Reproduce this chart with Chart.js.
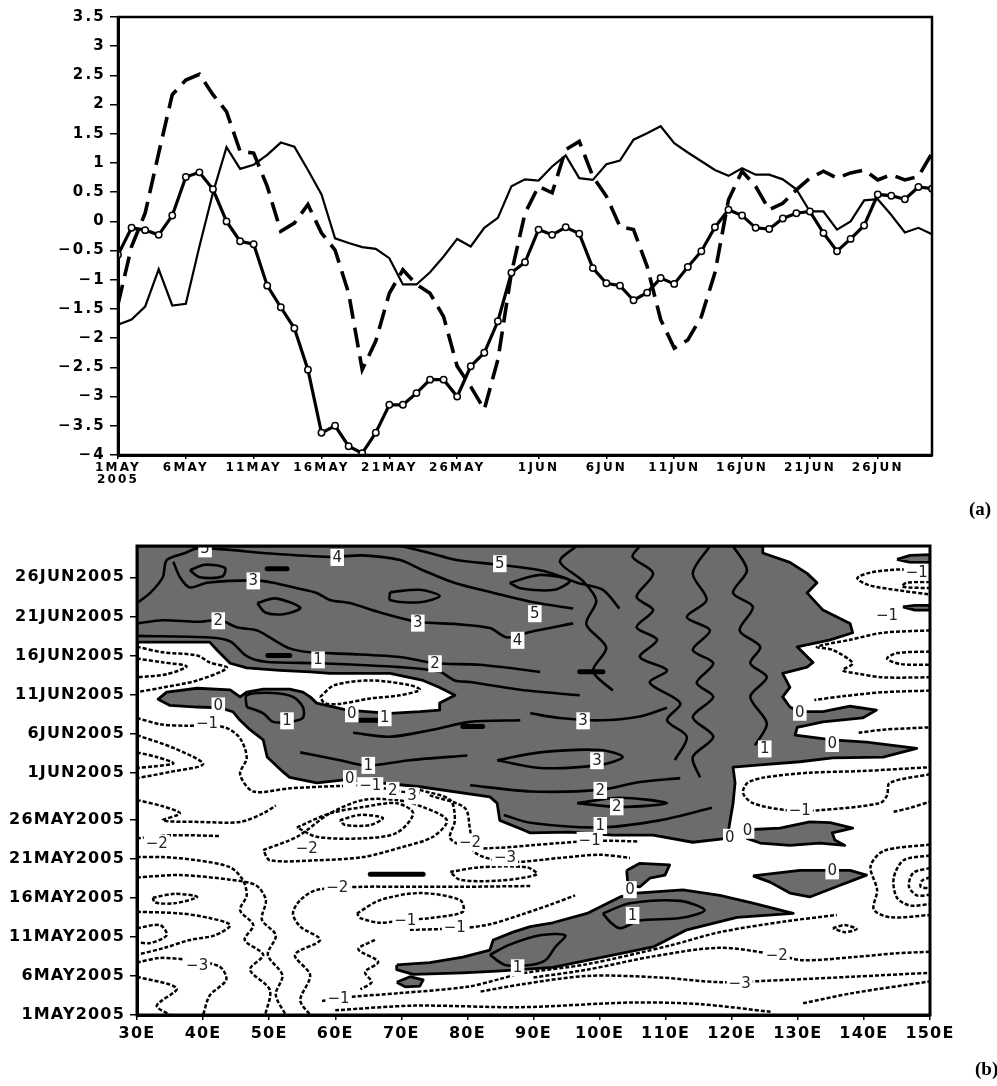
<!DOCTYPE html>
<html>
<head>
<meta charset="utf-8">
<script src="https://cdn.jsdelivr.net/npm/chart.js@4.4.1/dist/chart.umd.min.js"></script>
<style>
  body { margin: 0; background: #fff; }
  #wrap { position: relative; width: 997px; height: 1086px; overflow: hidden; }
  #chartA { position: absolute; left: 0; top: 0; }
  #chartB { position: absolute; left: 0; top: 490px; }
  .panel { position: absolute; font: bold 19px "Liberation Serif", serif; color: #000; }
</style>
</head>
<body>
<div id="wrap">
  <canvas id="chartA" width="997" height="490"></canvas>
  <canvas id="chartB" width="997" height="596"></canvas>
  <div class="panel" style="left:969px; top:498px;">(a)</div>
  <div class="panel" style="left:975px; top:1058px;">(b)</div>
</div>
<script>
// ---------- panel (a): daily index, 1 May .. 30 Jun 2005 ----------
var dayIdx = [];
for (var i = 0; i <= 60; i++) dayIdx.push(i);

var tickDays = [0, 5, 10, 15, 20, 25, 31, 36, 41, 46, 51, 56];
var tickLabelsA = [['1MAY', '2005'], '6MAY', '11MAY', '16MAY', '21MAY', '26MAY', '1JUN', '6JUN', '11JUN', '16JUN', '21JUN', '26JUN'];

var circleSeries = [-0.57, -0.11, -0.15, -0.23, 0.10, 0.76, 0.84, 0.55, 0.0, -0.34,
  -0.39, -1.10, -1.47, -1.83, -2.54, -3.62, -3.50, -3.85, -3.97, -3.62,
  -3.14, -3.14, -2.94, -2.71, -2.71, -3.0, -2.48, -2.25, -1.71, -0.88,
  -0.70, -0.14, -0.23, -0.10, -0.21, -0.80, -1.06, -1.10, -1.35, -1.22,
  -0.97, -1.07, -0.78, -0.51, -0.10, 0.20, 0.10, -0.11, -0.13, 0.05,
  0.14, 0.17, -0.20, -0.51, -0.30, -0.07, 0.46, 0.44, 0.38, 0.59, 0.56];

var thinSeries = [-1.77, -1.68, -1.46, -0.82, -1.44, -1.41, -0.43, 0.49, 1.27, 0.90,
  0.97, 1.14, 1.35, 1.28, 0.88, 0.46, -0.29, -0.37, -0.44, -0.47,
  -0.63, -1.08, -1.08, -0.87, -0.60, -0.30, -0.43, -0.11, 0.06, 0.60,
  0.72, 0.70, 0.94, 1.13, 0.74, 0.71, 0.98, 1.04, 1.40, 1.51,
  1.63, 1.34, 1.18, 1.03, 0.88, 0.78, 0.91, 0.80, 0.80, 0.72,
  0.55, 0.17, 0.17, -0.14, 0.0, 0.36, 0.38, 0.11, -0.19, -0.11, -0.22];

var dashSeries = [-1.42, -0.43, 0.14, 1.17, 2.17, 2.42, 2.52, 2.17, 1.88, 1.20,
  1.17, 0.60, -0.17, -0.03, 0.29, -0.20, -0.49, -1.23, -2.54, -2.05,
  -1.23, -0.83, -1.08, -1.23, -1.63, -2.48, -2.83, -3.22, -2.37, -0.88,
  0.14, 0.60, 0.49, 1.23, 1.37, 0.77, 0.43, -0.09, -0.14, -0.77,
  -1.68, -2.17, -2.03, -1.63, -0.88, 0.37, 0.86, 0.60, 0.20, 0.31,
  0.54, 0.74, 0.86, 0.74, 0.83, 0.88, 0.71, 0.80, 0.71, 0.77, 1.17];

// ---------- panel (b): longitude-time section ----------
var lonTicks = [30, 40, 50, 60, 70, 80, 90, 100, 110, 120, 130, 140, 150];
var lonLabels = ['30E', '40E', '50E', '60E', '70E', '80E', '90E', '100E', '110E', '120E', '130E', '140E', '150E'];
var tickLabelsB = ['1MAY2005', '6MAY2005', '11MAY2005', '16MAY2005', '21MAY2005', '26MAY2005',
  '1JUN2005', '6JUN2005', '11JUN2005', '16JUN2005', '21JUN2005', '26JUN2005'];

// shaded (positive) areas, [lon, day]
var shadeMain = [[30,60],[124.7,60],[124.7,59.1],[128.8,57.9],[131.4,56.5],[132.9,55.3],[131.4,54.0],[133.8,51.8],[137.9,50.1],[138.3,48.9],[134.9,48.0],[129.9,47.1],[132.3,45.1],[131.4,44.5],[127.7,43.7],[128.8,41.9],[127.7,40.7],[128.8,39.4],[130.3,38.8],[133.8,38.8],[137.9,39.5],[141.9,39.0],[139.8,38.0],[133.8,37.5],[129.9,36.8],[129.6,35.8],[131.4,35.6],[135.2,35.2],[140.4,34.9],[148.0,34.1],[142.9,33.0],[135.3,32.9],[130.3,32.4],[124.3,32.0],[120.2,31.7],[120.5,29.7],[120.2,27.1],[119.7,24.6],[119.3,22.6],[114.1,22.1],[108.1,23.0],[102.0,23.0],[95.5,23.4],[89.5,23.3],[88.4,23.7],[84.9,24.9],[84.5,27.1],[83.4,27.9],[72.8,29.2],[61.8,30.1],[57.2,29.7],[53.1,30.4],[52.1,31.1],[49.7,33.0],[49.1,35.2],[47.1,36.5],[45.6,37.7],[44.5,38.8],[42.6,39.3],[39.1,39.4],[35.0,39.6],[33.2,40.4],[34.5,41.3],[39.1,41.8],[44.1,41.6],[45.6,40.7],[46.6,41.3],[49.1,41.7],[53.1,41.7],[55.1,41.3],[56.2,40.7],[57.2,39.9],[61.8,39.0],[68.3,38.6],[72.8,38.8],[75.8,39.0],[75.8,39.9],[78.1,40.9],[75.8,41.9],[73.3,42.8],[68.3,43.7],[64.2,43.7],[59.2,43.7],[56.2,43.9],[51.6,44.1],[46.6,44.4],[44.1,45.0],[42.1,46.7],[41.0,47.7],[30,47.7],[30,60]];
var shadeLow = [[69.3,6.4],[74.3,6.7],[79.3,7.4],[83.4,8.3],[83.9,9.6],[86.9,10.6],[89.5,11.3],[92.9,11.8],[98.1,13.0],[103.1,15.1],[105.6,15.6],[112.6,16.0],[118.2,15.3],[123.2,14.3],[129.3,13.0],[120.8,12.5],[113.2,10.9],[108.1,8.7],[100.5,7.4],[92.9,6.1],[88.0,5.8],[84.5,5.6],[79.3,5.4],[71.8,5.2],[69.3,5.8],[69.3,6.4]];
var shadeLowDot = [[69.3,4.2],[71.3,4.9],[73.3,4.5],[72.8,3.7],[70.6,3.6],[69.3,4.2]];
var shadeMid = [[104.1,18.5],[106.1,19.4],[110.6,19.2],[109.9,17.9],[107.6,17.5],[106.1,16.4],[104.3,16.6],[104.1,18.5]];
var shadeRight = [[123.2,17.8],[130.3,18.5],[137.9,18.5],[140.4,17.9],[136.4,16.6],[131.8,15.1],[128.8,15.6],[125.8,17.0],[123.2,17.8]];
var shadeTongue = [[122.3,23.7],[127.3,23.9],[131.8,24.7],[134.9,24.6],[138.3,23.9],[135.2,23.3],[135.6,22.4],[137.1,21.7],[133.3,22.0],[128.8,21.7],[124.3,22.0],[122.3,22.6],[122.3,23.7]];
var shadeTopRight = [[145.0,58.3],[147.0,58.8],[150,58.9],[150,57.9],[147.0,57.9],[145.0,58.3]];
var shadeSliver = [[145.9,52.2],[147.7,52.4],[150,52.4],[150,51.8],[147.7,51.8],[145.9,52.2]];
var shadedAreas = [shadeMain, shadeLow, shadeLowDot, shadeMid, shadeRight, shadeTongue, shadeTopRight, shadeSliver];

// positive contours (solid)
var positiveContours = [
  [[30,48.5],[41.0,48.3],[44.1,47.8],[46.6,45.9],[49.4,45.2],[57.7,45.0],[69.8,44.5],[75.8,43.9],[78.1,42.8],[80.4,42.6],[88.0,41.6],[97.0,40.9]],
  [[30,50.1],[33.9,50.5],[39.1,50.3],[42.6,50.5],[45.1,49.6],[48.2,49.2],[50.1,48.3],[53.1,46.9],[56.2,46.4],[61.8,46.2],[69.8,45.8],[75.1,45.0],[81.9,44.8],[91.0,43.9]],
  [[35.5,58.0],[36.5,56.0],[38.0,54.7],[40.6,55.3],[47.6,55.6],[50.6,55.3],[54.2,54.6],[57.2,54.0],[59.2,53.1],[62.2,52.7],[66.8,51.5],[72.5,50.3],[78.4,50.0],[83.4,49.5],[86.0,48.3],[89.5,49.0],[96.0,50.1]],
  [[30,52.7],[32.0,54.0],[33.9,56.0],[34.5,58.2],[37.3,59.1],[39.1,59.7],[44.1,59.5],[49.1,59.1],[59.2,58.6],[64.2,58.8],[69.8,58.2],[73.0,57.0],[78.0,55.3],[84.0,54.0],[90.0,52.8],[96.0,52.0]],
  [[70.0,60],[74.3,59.1],[78.4,58.2],[84.9,57.6],[91.0,56.9],[94.5,56.0],[96.6,55.3],[100.5,54.4],[103.0,52.0]],
  [[38.0,56.9],[40.3,57.6],[43.3,57.2],[42.9,56.1],[39.5,56.0],[38.0,56.9]],
  [[48.2,52.7],[50.9,53.3],[54.7,52.1],[52.4,51.3],[49.4,51.5],[48.2,52.7]],
  [[68.3,54.1],[72.8,54.4],[75.8,53.6],[72.8,52.8],[68.3,53.1],[68.3,54.1]],
  [[86.4,55.3],[91.0,56.3],[95.5,55.6],[93.2,54.4],[88.0,54.6],[86.4,55.3]],
  [[96.5,60],[94.0,58.0],[97.5,55.5],[99.5,53.0],[98.0,50.0],[101.0,47.0],[99.0,44.0],[102.0,41.5]],
  [[106.1,60],[105.0,58.6],[108.1,56.5],[105.6,53.5],[108.1,51.8],[105.6,49.6],[108.7,48.0],[106.1,45.8],[110.2,44.1],[107.6,42.5],[112.2,39.9],[110.2,37.7],[113.2,35.6],[111.4,32.6]],
  [[116.7,60],[114.1,56.5],[116.2,53.1],[113.2,50.9],[116.7,49.2],[114.1,46.7],[117.2,45.0],[114.7,42.5],[117.2,40.7],[114.1,38.1],[117.2,35.6],[114.1,33.0],[115.2,30.4]],
  [[120.2,60],[122.3,56.9],[120.2,54.0],[123.2,52.2],[121.2,49.2],[124.3,47.1],[122.8,45.0],[125.3,43.2],[122.8,40.7],[125.3,37.3],[123.5,34.5]],
  [[89.5,38.6],[94.0,38.0],[100.1,37.7],[106.1,38.2],[110.2,39.3]],
  [[84.5,32.6],[91.0,33.6],[100.1,33.9],[103.5,33.0],[100.1,32.0],[91.0,31.6],[84.5,32.6]],
  [[80.4,29.4],[89.5,28.6],[100.1,28.8],[106.1,29.8],[112.2,30.3]],
  [[96.6,27.1],[103.1,27.8],[110.2,27.1],[103.1,26.6],[96.6,27.1]],
  [[85.5,25.6],[89.5,24.6],[100.1,24.0],[109.1,24.9],[117.0,26.5]],
  [[46.6,39.4],[49.1,38.6],[50.6,37.5],[53.1,37.5],[55.1,38.0],[55.1,39.4],[53.6,40.7],[50.6,41.2],[46.6,40.9],[46.6,39.4]],
  [[54.7,33.6],[60.7,32.6],[64.9,31.9],[71.3,32.6],[80.0,33.2]],
  [[62.7,36.1],[68.3,35.6],[74.8,36.5],[80.4,37.5],[88.0,37.7]],
  [[100.5,13.0],[104.6,14.3],[112.2,14.6],[115.9,13.4],[112.2,12.4],[106.1,12.1],[103.1,11.1],[101.6,11.9],[100.5,13.0]],
  [[83.4,7.7],[86.4,9.0],[91.0,10.2],[94.8,10.2],[93.3,8.7],[91.8,7.0],[89.5,6.4],[85.7,6.4],[83.4,7.7]]
];

// tiny closed contours that print as short heavy strokes
var darkBits = [
  [[49.7,57.1],[52.7,57.1]], [[49.8,46.0],[53.1,46.0]], [[97.0,43.9],[100.5,43.9]],
  [[79.3,36.9],[82.3,36.9]], [[63.7,37.7],[67.2,37.7]], [[65.3,18.0],[73.3,18.0]]
];

// negative contours (dotted)
var negativeContours = [
  [[30,47.1],[33.9,46.4],[39.1,46.0],[41.0,45.1],[43.6,44.4],[39.1,42.8],[33.9,41.9],[30,41.3]],
  [[30,45.6],[34.0,45.1],[37.5,44.6],[34.5,43.6],[30,43.2]],
  [[57.7,40.7],[59.9,42.2],[65.3,42.8],[71.3,42.2],[72.8,41.6],[69.8,40.9],[65.3,40.5],[60.7,39.8],[58.4,39.9],[57.7,40.7]],
  [[30,38.0],[33.5,37.2],[37.6,37.0],[40.6,37.1],[43.6,36.7],[45.6,35.4],[46.6,32.9],[45.6,30.8],[47.6,28.6],[53.1,29.0],[60.7,29.3],[65.3,29.3],[69.8,28.6],[72.8,28.4]],
  [[30,35.8],[35.7,34.1],[40.0,32.1],[35.0,31.1],[30,30.3]],
  [[30,33.6],[33.0,33.0],[35.5,32.2],[32.5,31.8],[30,31.6]],
  [[30,27.5],[33.9,26.7],[36.5,25.8],[33.9,24.9],[39.5,24.7],[45.6,24.7],[49.1,25.8],[51.0,26.8]],
  [[30,22.6],[35.7,23.0],[42.6,22.9]],
  [[30,20.2],[33.9,20.2],[39.1,19.8],[44.1,18.9],[46.0,17.3],[46.6,15.3],[45.6,13.4],[47.6,11.5],[46.3,9.6],[49.1,7.7],[47.1,5.8],[50.1,3.2],[49.4,0]],
  [[30,17.6],[36.5,17.9],[44.1,17.3],[48.0,16.6],[49.5,14.7],[48.9,12.2],[51.0,10.2],[49.8,7.7],[52.0,5.1],[51.0,2.6],[52.5,0]],
  [[89.5,16.5],[78.9,16.4],[69.8,16.4],[64.2,16.4],[57.2,16.0],[54.7,14.7],[53.6,13.0],[54.7,11.3],[57.7,9.6],[53.9,7.7],[56.2,5.1],[54.7,1.9],[56.2,0]],
  [[66.0,9.6],[63.5,8.4],[66.5,6.8],[64.5,5.5],[65.5,4.2],[63.8,3.3]],
  [[49.1,21.1],[54.2,22.8],[59.2,25.8],[64.2,27.5],[69.3,27.5],[73.3,26.6],[76.9,24.9],[74.8,22.8],[70.2,21.5],[64.2,20.2],[57.2,19.8],[50.1,19.8],[49.1,21.1]],
  [[54.2,24.0],[59.2,25.8],[64.2,26.6],[69.3,27.1],[71.8,25.8],[69.3,23.3],[64.2,22.6],[57.2,22.8],[54.2,24.0]],
  [[60.7,24.9],[63.7,25.6],[67.2,25.2],[65.3,24.3],[61.5,24.3],[60.7,24.9]],
  [[72.8,28.8],[77.4,27.5],[78.1,24.9],[77.4,22.6],[80.4,21.4],[84.9,21.4],[89.5,21.7],[94.0,22.0],[100,22.3],[106,22.2]],
  [[74.3,28.1],[79.6,26.5],[80.4,23.7],[81.1,20.8],[86.4,19.6],[94.0,20.1],[100.1,20.5],[104.6,20.1]],
  [[77.4,18.3],[81.9,18.9],[89.0,18.9],[90.5,18.0],[84.9,17.2],[78.9,17.3],[77.4,18.3]],
  [[63.3,13.0],[66.8,14.7],[72.8,15.6],[78.9,14.7],[79.3,13.2],[74.3,12.4],[69.8,12.1],[66.8,11.8],[63.8,12.4],[63.3,13.0]],
  [[71.3,10.9],[78.9,11.1],[83.4,11.6],[88.0,12.8],[92.5,14.1],[96.3,15.3]],
  [[30,6.7],[33.5,7.3],[38.0,7.0],[42.5,6.2],[43.5,4.5],[41.0,2.5],[40.0,0]],
  [[30,4.9],[36.0,3.4],[33.0,1.2],[35.0,0]],
  [[30,13.2],[36.5,13.0],[41.0,12.4],[44.1,11.5],[41.8,10.2],[38.0,9.6],[34.2,8.6],[30,7.7]],
  [[30,11.1],[33.5,11.5],[34.5,10.2],[32.0,9.2],[30,9.3]],
  [[32.4,15.0],[35.7,15.5],[39.1,15.1],[35.7,14.3],[32.7,14.4],[32.4,15.0]],
  [[58.0,1.8],[60.7,2.2],[69.8,2.8],[79.9,3.6],[84.9,4.6],[88.0,5.3],[98.1,6.5],[110.7,8.9],[118.2,10.6],[128.3,12.0],[135.9,12.8]],
  [[90.0,4.8],[98.1,5.8],[108.1,7.5],[118.2,8.6],[126.8,7.7],[130.8,7.0],[138.3,7.4],[145.0,7.9],[150,8.1]],
  [[82.0,3.0],[88.0,3.9],[98.1,5.0],[109.1,4.8],[118.2,4.2],[128.3,4.5],[138.3,4.9],[150,5.4]],
  [[60.0,0.6],[72.0,1.2],[88.0,1.0],[105.0,1.6],[115.0,1.4],[126.0,0.4]],
  [[130.8,1.5],[138.3,2.8],[150,4.3]],
  [[150,56.8],[145.5,57.0],[141.0,56.6],[139.0,55.9],[140.7,55.0],[145.5,54.3],[150,53.8]],
  [[150,55.4],[146.5,55.3],[145.8,54.8],[150,54.6]],
  [[150,49.2],[142.9,48.9],[137.9,48.0],[132.9,47.1],[135.3,46.7],[138.3,45.0],[136.8,44.1],[138.9,43.7],[142.9,43.2],[150,43.2]],
  [[150,46.5],[145.0,46.3],[143.5,45.6],[145.5,44.9],[150,44.8]],
  [[150,41.5],[143.0,41.3],[137.0,40.8],[132.5,40.3]],
  [[139.2,36.1],[142.9,36.5],[150,36.8]],
  [[150,30.8],[143.9,29.7],[143.5,28.1],[142.4,27.1],[133.3,26.2],[128.3,26.2],[123.2,27.1],[121.7,28.4],[122.4,29.7],[125.0,30.4],[131.8,31.0],[139.4,31.2],[150,31.7]],
  [[144.5,26.0],[147.0,26.5],[150,27.3]],
  [[150,21.8],[143.0,21.0],[141.0,19.0],[142.0,16.0],[141.5,13.5],[144.0,12.5],[150,12.8]],
  [[150,20.4],[146.0,19.8],[144.5,17.5],[145.0,15.0],[147.0,14.0],[150,14.2]],
  [[150,18.8],[147.5,18.2],[146.8,16.5],[148.0,15.3],[150,15.4]],
  [[150,17.6],[148.8,17.2],[148.6,16.4],[150,16.2]],
  [[135.3,11.1],[137.1,11.5],[138.9,11.0],[137.1,10.6],[135.3,11.1]]
];

// contour labels: [lon, day, text]
var contourLabels = [
  [40.3,59.7,'5'],[60.3,58.6,'4'],[47.6,55.6,'3'],[42.3,50.5,'2'],[57.4,45.5,'1'],[75.1,45.0,'2'],
  [42.3,39.6,'0'],[52.7,37.7,'1'],[67.5,38.1,'1'],[62.5,38.6,'0'],[84.9,57.8,'5'],[90.2,51.4,'5'],
  [72.5,50.2,'3'],[87.6,48.0,'4'],[97.5,37.7,'3'],[99.6,32.6,'3'],[100.1,28.8,'2'],[102.6,26.7,'2'],
  [100.1,24.3,'1'],[65.0,32.0,'1'],[62.2,30.3,'0'],[125.0,34.1,'1'],[130.3,38.8,'0'],[135.2,34.8,'0'],
  [119.7,22.8,'0'],[122.4,23.7,'0'],[104.6,16.1,'0'],[135.2,18.5,'0'],[105.0,12.8,'1'],[87.6,6.1,'1'],
  [40.6,37.3,'−1'],[65.3,29.4,'−1'],[68.7,28.8,'2'],[71.6,28.1,'3'],[33.0,22.0,'−2'],[55.7,21.4,'−2'],
  [80.4,22.1,'−2'],[85.7,20.2,'−3'],[98.5,22.4,'−1'],[60.3,16.4,'−2'],[70.6,12.2,'−1'],[78.1,11.3,'−1'],
  [39.1,6.4,'−3'],[60.5,2.1,'−1'],[126.8,7.7,'−2'],[121.2,4.1,'−3'],[130.3,26.2,'−1'],[148.0,56.7,'−1'],
  [143.5,51.2,'−1']
];

// ---------- plugins ----------
var spacingPlugin = {
  id: 'spacing',
  beforeDraw: function (chart, args, opts) { chart.ctx.letterSpacing = opts.px + 'px'; },
  afterDraw: function (chart) { chart.ctx.letterSpacing = '0px'; }
};

var framePlugin = {
  id: 'frame',
  afterDatasetsDraw: function (chart, args, opts) {
    var a = chart.chartArea, c = chart.ctx;
    c.save();
    c.strokeStyle = '#000';
    c.lineWidth = opts.width;
    c.strokeRect(a.left, a.top, a.right - a.left, a.bottom - a.top);
    c.restore();
  }
};

var labelPlugin = {
  id: 'contourLabels',
  afterDatasetsDraw: function (chart) {
    var c = chart.ctx, xs = chart.scales.x, ys = chart.scales.y, a = chart.chartArea;
    c.save();
    c.beginPath();
    c.rect(a.left, a.top, a.right - a.left, a.bottom - a.top);
    c.clip();
    c.letterSpacing = '0px';
    c.font = '15px "DejaVu Sans"';
    c.textAlign = 'center';
    c.textBaseline = 'middle';
    contourLabels.forEach(function (l) {
      var px = xs.getPixelForValue(l[0]), py = ys.getPixelForValue(l[1]);
      var w = c.measureText(l[2]).width;
      c.fillStyle = '#fff';
      c.fillRect(px - w / 2 - 2, py - 8, w + 4, 17);
      c.fillStyle = '#222';
      c.fillText(l[2], px, py + 1);
    });
    c.restore();
  }
};

function toXY(ys) {
  return ys.map(function (v, i) { return { x: dayIdx[i], y: v }; });
}
function pts(arr) {
  return arr.map(function (p) { return { x: p[0], y: p[1] }; });
}

// ---------- chart (a) ----------
new Chart(document.getElementById('chartA').getContext('2d'), {
  type: 'line',
  data: {
    datasets: [
      { data: toXY(circleSeries), borderColor: '#000', borderWidth: 3.2, tension: 0,
        pointRadius: 3.2, pointStyle: 'circle', pointBackgroundColor: '#fff',
        pointBorderColor: '#000', pointBorderWidth: 1.5 },
      { data: toXY(thinSeries), borderColor: '#000', borderWidth: 2.2, pointRadius: 0, tension: 0 },
      { data: toXY(dashSeries), borderColor: '#000', borderWidth: 3.6, borderDash: [20, 9],
        pointRadius: 0, tension: 0 }
    ]
  },
  options: {
    responsive: false, animation: false, events: [],
    layout: { padding: { left: 0, right: 65, top: 17, bottom: 0 } },
    plugins: { legend: { display: false }, tooltip: { enabled: false },
               spacing: { px: 2.2 }, frame: { width: 2.5 } },
    scales: {
      x: {
        type: 'linear', min: 0, max: 60,
        afterBuildTicks: function (axis) { axis.ticks = tickDays.map(function (v) { return { value: v }; }); },
        afterFit: function (axis) { axis.height = 35; },
        grid: { drawOnChartArea: false, drawTicks: true, tickLength: 4, color: '#000', lineWidth: 1.5 },
        border: { color: '#000', width: 3 },
        ticks: { autoSkip: false, maxRotation: 0, color: '#000', padding: 3,
                 font: { family: 'DejaVu Sans', weight: 'bold', size: 12, lineHeight: 1.0 },
                 callback: function (v, i) { return tickLabelsA[i]; } }
      },
      y: {
        min: -4, max: 3.5,
        afterFit: function (axis) { axis.width = 118; },
        grid: { drawOnChartArea: false, drawTicks: true, tickLength: 8, color: '#000', lineWidth: 1.5 },
        border: { color: '#000', width: 3 },
        ticks: { stepSize: 0.5, autoSkip: false, color: '#000', padding: 4,
                 font: { family: 'DejaVu Sans', weight: 'bold', size: 15 },
                 callback: function (v) { return (v < 0 ? '\u2212' : '') + Math.abs(v); } }
      }
    }
  },
  plugins: [spacingPlugin, framePlugin]
});

// ---------- chart (b) ----------
var dsB = [];
shadedAreas.forEach(function (a) {
  dsB.push({ data: pts(a), fill: 'shape', backgroundColor: '#6c6c6c', borderColor: '#000',
             borderWidth: 2.8, borderJoinStyle: 'round', pointRadius: 0, tension: 0, order: 3 });
});
positiveContours.forEach(function (c) {
  dsB.push({ data: pts(c), fill: false, borderColor: '#000', borderWidth: 2.6,
             borderJoinStyle: 'round', pointRadius: 0, tension: 0.3, order: 2 });
});
darkBits.forEach(function (c) {
  dsB.push({ data: pts(c), fill: false, borderColor: '#000', borderWidth: 5,
             borderCapStyle: 'round', pointRadius: 0, order: 2 });
});
negativeContours.forEach(function (c) {
  dsB.push({ data: pts(c), fill: false, borderColor: '#000', borderWidth: 2.5, borderDash: [4, 2],
             borderJoinStyle: 'round', pointRadius: 0, tension: 0.3, order: 1 });
});

new Chart(document.getElementById('chartB').getContext('2d'), {
  type: 'line',
  data: { datasets: dsB },
  options: {
    responsive: false, animation: false, events: [],
    layout: { padding: { left: 0, right: 67, top: 56, bottom: 0 } },
    plugins: { legend: { display: false }, tooltip: { enabled: false },
               spacing: { px: 1.2 }, frame: { width: 3 } },
    scales: {
      x: {
        type: 'linear', min: 30, max: 150,
        afterBuildTicks: function (axis) { axis.ticks = lonTicks.map(function (v) { return { value: v }; }); },
        afterFit: function (axis) { axis.height = 71; },
        grid: { drawOnChartArea: false, drawTicks: true, tickLength: 5, color: '#000', lineWidth: 1.5 },
        border: { color: '#000', width: 3 },
        ticks: { autoSkip: false, maxRotation: 0, color: '#000', padding: 4,
                 font: { family: 'DejaVu Sans', weight: 'bold', size: 16 },
                 callback: function (v, i) { return lonLabels[i]; } }
      },
      y: {
        min: 0, max: 60,
        afterBuildTicks: function (axis) { axis.ticks = tickDays.map(function (v) { return { value: v }; }); },
        afterFit: function (axis) { axis.width = 137; },
        grid: { drawOnChartArea: false, drawTicks: true, tickLength: 7, color: '#000', lineWidth: 1.5 },
        border: { color: '#000', width: 3 },
        ticks: { autoSkip: false, color: '#000', padding: 5,
                 font: { family: 'DejaVu Sans', weight: 'bold', size: 16 },
                 callback: function (v, i) { return tickLabelsB[i]; } }
      }
    }
  },
  plugins: [spacingPlugin, labelPlugin, framePlugin]
});
</script>
</body>
</html>
